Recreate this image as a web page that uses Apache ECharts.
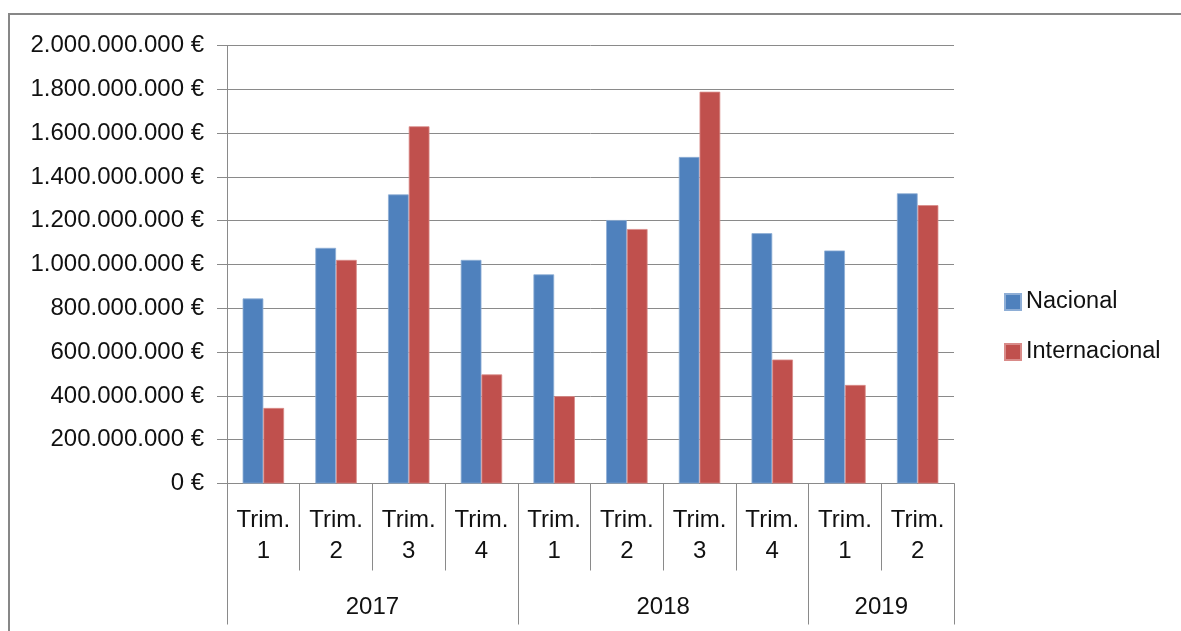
<!DOCTYPE html>
<html>
<head>
<meta charset="utf-8">
<script src="https://cdn.jsdelivr.net/npm/echarts@6/dist/echarts.min.js"></script>
<style>
html,body{margin:0;padding:0;background:#fff;}
#wrap{position:relative;width:1181px;height:631px;overflow:hidden;}
#frame{position:absolute;left:8px;top:13px;width:1300px;height:800px;border:2px solid #878787;box-sizing:border-box;}
#chart{position:absolute;left:0;top:0;width:1181px;height:631px;}
</style>
</head>
<body>
<div id="wrap"><div id="frame"></div><div id="chart"></div></div>
<script>
const quarters = ['Trim.\n1','Trim.\n2','Trim.\n3','Trim.\n4','Trim.\n1','Trim.\n2','Trim.\n3','Trim.\n4','Trim.\n1','Trim.\n2'];
const years = ['2017','2017','2017','2017','2018','2018','2018','2018','2019','2019'];
const yearLabelIndex = [1, 5, 8];
const yearBoundaryIndex = [0, 4, 8];
const nacional = [845e6, 1076e6, 1320e6, 1021e6, 955e6, 1203e6, 1491e6, 1143e6, 1064e6, 1325e6];
const internacional = [345e6, 1021e6, 1631e6, 498e6, 399e6, 1162e6, 1789e6, 566e6, 450e6, 1271e6];
const seriesNames = ['Nacional', 'Internacional'];

const FONT = 'Liberation Sans';
const GRAY = '#8a8a8a';
const TXT = '#111111';
function fmtEuro(v){
  const s = Math.round(v).toString().replace(/\B(?=(\d{3})+(?!\d))/g, '.');
  return s + ' €';
}
const chart = echarts.init(document.getElementById('chart'), null, {renderer:'canvas'});
chart.setOption({
  animation:false,
  textStyle:{fontFamily:FONT},
  grid:{left:227, right:227, top:45.5, bottom:147.5, containLabel:false},
  legend:{
    orient:'vertical', left:999, top:285,
    itemWidth:16, itemHeight:16, itemGap:26, icon:'rect',
    textStyle:{fontFamily:FONT, fontSize:23.5, lineHeight:24, color:TXT},
    data:seriesNames
  },
  xAxis:[{
    type:'category', data:quarters, position:'bottom',
    axisLine:{show:true, lineStyle:{color:GRAY, width:1}},
    axisTick:{show:true, interval:0, length:87, lineStyle:{color:GRAY, width:1}},
    axisLabel:{interval:0, margin:21, fontFamily:FONT, fontSize:24, lineHeight:31, color:TXT}
  },{
    type:'category', data:years, position:'bottom', offset:0,
    axisLine:{show:false},
    axisTick:{show:true, length:141, lineStyle:{color:GRAY, width:1},
      interval:function(i){ return yearBoundaryIndex.indexOf(i) >= 0; }},
    axisLabel:{
      interval:function(i){ return yearLabelIndex.indexOf(i) >= 0; },
      margin:112, fontFamily:FONT, fontSize:24, lineHeight:24, color:TXT,
      padding:[0,0,0,72.7]
    },
    splitLine:{show:false}
  }],
  yAxis:{
    type:'value', min:0, max:2000000000, interval:200000000,
    axisLine:{show:true, lineStyle:{color:GRAY, width:1}},
    axisTick:{show:true, inside:false, length:10, lineStyle:{color:GRAY, width:1}},
    axisLabel:{margin:23, formatter:fmtEuro, fontFamily:FONT, fontSize:24, color:TXT},
    splitLine:{show:true, lineStyle:{color:GRAY, width:1}}
  },
  series:[{
    name:seriesNames[0], type:'bar', data:nacional, xAxisIndex:0,
    barGap:'0%', barCategoryGap:'43%',
    itemStyle:{color:'#4F81BD', borderColor:'#8eaed6', borderWidth:0.8}
  },{
    name:seriesNames[1], type:'bar', data:internacional, xAxisIndex:0,
    itemStyle:{color:'#C0504D', borderColor:'#d98b89', borderWidth:0.8}
  }]
});
</script>
</body>
</html>
